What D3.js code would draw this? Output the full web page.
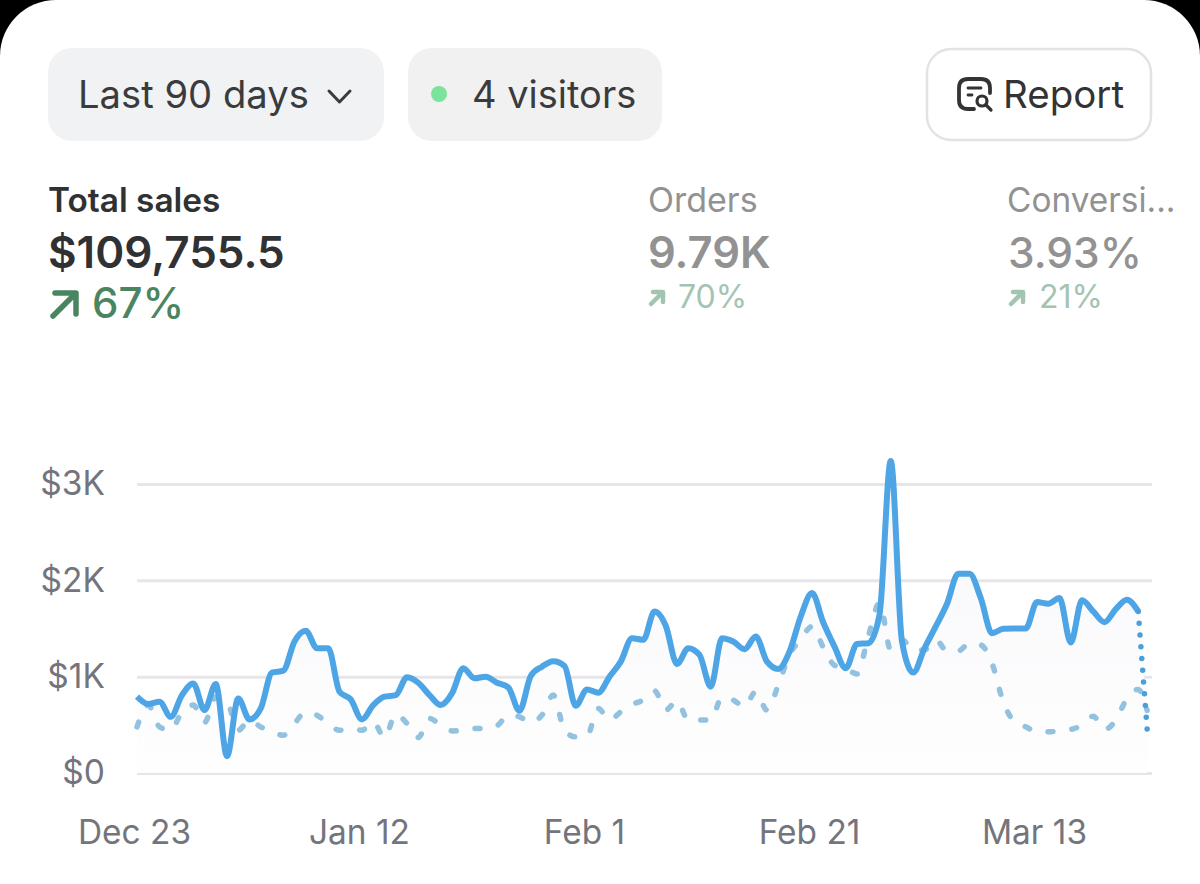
<!DOCTYPE html>
<html>
<head>
<meta charset="utf-8">
<script src="https://cdn.jsdelivr.net/npm/d3@7"></script>
<style>
  html, body { margin: 0; padding: 0; background: #000; }
  svg { display: block; }
  text { font-family: Inter, "Noto Sans", sans-serif; }
</style>
</head>
<body>
<div id="chart"></div>
<script>
var width = 1200;
var height = 884;

// Daily total sales, Dec 23 onward
var currentSales = [
  792, 715, 740, 583, 809, 930, 653, 924, 174, 774,
  556, 670, 1042, 1062, 1365, 1476, 1295, 1295, 844, 764,
  556, 705, 792, 809, 993, 937, 809, 705, 826, 1087,
  983, 1000, 937, 889, 646, 1007, 1104, 1160, 1111, 698,
  868, 833, 1000, 1156, 1399, 1382, 1677, 1528, 1132, 1295,
  1226, 896, 1399, 1365, 1285, 1417, 1156, 1080, 1260, 1625,
  1868, 1562, 1312, 1087, 1340, 1347, 1642, 3240, 1365, 1042,
  1295, 1521, 1757, 2069, 2069, 1816, 1451, 1497, 1500, 1500,
  1774, 1757, 1816, 1354, 1792, 1677, 1566, 1701, 1799, 1677,
  451
];

// Same days in the previous period (dashed)
var previousSales = [
  479, 705, 479, 444, 635, 705, 524, 790, 740, 444,
  549, 479, 427, 392, 514, 635, 600, 514, 444, 462,
  444, 531, 368, 611, 514, 368, 566, 497, 437, 444,
  462, 462, 490, 601, 583, 524, 601, 809, 444, 375,
  385, 670, 549, 635, 712, 757, 854, 653, 750, 549,
  549, 549, 785, 757, 688, 844, 653, 913, 1226, 1389,
  1521, 1305, 1118, 1087, 1028, 1417, 1764, 1278, 1382, 1278,
  1278, 1382, 1267, 1267, 1347, 1330, 1139, 740, 531, 479,
  427, 427, 437, 451, 497, 590, 451, 549, 774, 868,
  650
];

var yTicks = [0, 1000, 2000, 3000];
var xTickDays = [0, 20, 40, 60, 80];

var startDate = new Date(Date.UTC(2022, 11, 23));
var lastIdx = currentSales.length - 1;
// last point is today, only part of a day in
function dateOf(i) {
  var d = d3.utcDay.offset(startDate, i);
  return i === lastIdx ? d3.utcHour.offset(d, -5) : d;
}

var svg = d3.select("#chart").append("svg")
  .attr("width", width)
  .attr("height", height);

// Card
svg.append("rect").attr("width", width).attr("height", height).attr("fill", "#000");
svg.append("rect").attr("width", width).attr("height", height + 80).attr("rx", 56).attr("fill", "#fff");

var defs = svg.append("defs");
var grad = defs.append("linearGradient").attr("id", "areaFill")
  .attr("x1", 0).attr("x2", 0).attr("y1", 0).attr("y2", 1);
grad.append("stop").attr("offset", "0%").attr("stop-color", "#f7f7fb");
grad.append("stop").attr("offset", "100%").attr("stop-color", "#fefefe");

// Top buttons
svg.append("rect").attr("x", 48).attr("y", 48).attr("width", 336).attr("height", 93).attr("rx", 24).attr("fill", "#f1f2f4");
svg.append("rect").attr("x", 408).attr("y", 48).attr("width", 254).attr("height", 93).attr("rx", 24).attr("fill", "#f1f1f2");
svg.append("rect").attr("x", 927).attr("y", 49).attr("width", 224).attr("height", 91).attr("rx", 24)
  .attr("fill", "#fff").attr("stroke", "#e3e3e3").attr("stroke-width", 2.5);

function label(x, y, str, size, weight, color) {
  return svg.append("text")
    .attr("x", x).attr("y", y)
    .attr("font-size", size + "px")
    .attr("font-weight", weight)
    .attr("fill", color)
    .text(str);
}

function arrow(d, color, sw) {
  svg.append("path").attr("d", d).attr("fill", "none")
    .attr("stroke", color).attr("stroke-width", sw)
    .attr("stroke-linecap", "round").attr("stroke-linejoin", "round");
}

label(78, 108, "Last 90 days", 38.2, 400, "#3a3b3d");
arrow("M329 91 L339.5 102 L350 91", "#3a3b3d", 3);

svg.append("circle").attr("cx", 439).attr("cy", 94).attr("r", 8).attr("fill", "#7be39b");
label(472, 108, "4 visitors", 38, 400, "#3a3b3d");

// Report icon
arrow("M974 109 H968 Q959 109 959 100 V88 Q959 79 968 79 H981 Q990 79 990 88 V93", "#333", 3.8);
arrow("M968 88 H981 M968 95 H972", "#333", 2.8);
svg.append("circle").attr("cx", 982).attr("cy", 101).attr("r", 5).attr("fill", "none").attr("stroke", "#333").attr("stroke-width", 3.2);
arrow("M986 105 L991 110", "#333", 3.2);
label(1003, 108, "Report", 38.5, 400, "#333");

// Summary numbers
label(48, 212, "Total sales", 33.4, 600, "#303133");
label(48, 268, "$109,755.5", 44, 600, "#303133");
label(92, 318, "67%", 42, 500, "#4a8562");
arrow("M53 316 L75 294 M55 293 H76 V314", "#4a8562", 5.5);

label(648, 212, "Orders", 34, 400, "#929292");
label(648, 268, "9.79K", 43.5, 600, "#929292");
label(678, 308, "70%", 32, 400, "#a3c4b1");
arrow("M651 304 L662 293 M653 292 H663 V302", "#a3c4b1", 4.5);

label(1007, 212, "Conversi...", 33.4, 400, "#929292");
label(1008, 268, "3.93%", 42.5, 500, "#929292");
label(1039, 308, "21%", 32, 400, "#a3c4b1");
arrow("M1011 304 L1022 293 M1013 292 H1023 V302", "#a3c4b1", 4.5);

// Scales
var xScale = d3.scaleUtc()
  .domain([startDate, d3.utcDay.offset(startDate, 90)])
  .range([137, 1149.5]);
var yScale = d3.scaleLinear().domain([0, 3000]).range([773, 484]);

// Axes
var yAxis = d3.axisLeft(yScale)
  .tickValues(yTicks)
  .tickSize(-(1152 - 137))
  .tickFormat(function (d) { return d === 0 ? "$0" : "$" + d / 1000 + "K"; });

var xAxis = d3.axisBottom(xScale)
  .tickValues(xTickDays.map(function (d) { return d3.utcDay.offset(startDate, d); }))
  .tickSize(0)
  .tickFormat(d3.utcFormat("%b %-d"));

var yG = svg.append("g").attr("transform", "translate(137,0)").call(yAxis);
yG.select(".domain").remove();
yG.selectAll(".tick line").attr("stroke", "#e6e6ea").attr("stroke-width", 3);
yG.selectAll(".tick text")
  .attr("x", -32)
  .attr("font-size", "33.5px")
  .attr("font-family", "Inter, sans-serif")
  .attr("fill", "#74757c");

var xG = svg.append("g").attr("transform", "translate(0,816)").call(xAxis);
xG.select(".domain").remove();
xG.selectAll(".tick text")
  .attr("dx", -3)
  .attr("y", 0)
  .attr("dy", "28px")
  .attr("font-size", "33.4px")
  .attr("font-family", "Inter, sans-serif")
  .attr("fill", "#74757c");

// Area + lines
var line = d3.line()
  .x(function (d, i) { return xScale(dateOf(i)); })
  .y(function (d) { return yScale(d); })
  .curve(d3.curveMonotoneX);

var area = d3.area()
  .x(function (d, i) { return xScale(dateOf(i)); })
  .y0(yScale(0))
  .y1(function (d) { return yScale(d); })
  .curve(d3.curveMonotoneX);

svg.append("path")
  .datum(currentSales)
  .attr("d", area)
  .attr("fill", "url(#areaFill)");

svg.append("path")
  .datum(previousSales)
  .attr("d", line)
  .attr("fill", "none")
  .attr("stroke", "#93c2e0")
  .attr("stroke-width", 5.5)
  .attr("stroke-linecap", "round")
  .attr("stroke-dasharray", "5 19");

// Solid up to yesterday, dotted into today
svg.append("path")
  .datum(currentSales.slice(0, lastIdx))
  .attr("d", line)
  .attr("fill", "none")
  .attr("stroke", "#4ea5e6")
  .attr("stroke-width", 6)
  .attr("stroke-linejoin", "round");

var tail = d3.line()
  .x(function (d, i) { return xScale(dateOf(lastIdx - 1 + i)); })
  .y(function (d) { return yScale(d); })
  .curve(d3.curveMonotoneX);

svg.append("path")
  .datum(currentSales.slice(lastIdx - 1))
  .attr("d", tail)
  .attr("fill", "none")
  .attr("stroke", "#4a9fdb")
  .attr("stroke-width", 5.5)
  .attr("stroke-linecap", "round")
  .attr("stroke-dasharray", "0 11.8");
</script>
</body>
</html>
